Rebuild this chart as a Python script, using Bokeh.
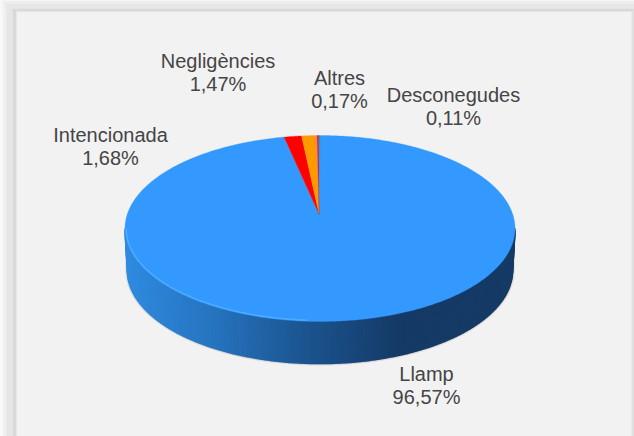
import numpy as np
from bokeh.plotting import figure
from bokeh.models import Range1d
from bokeh.core.properties import value
from bokeh.embed import file_html
from bokeh.resources import INLINE

categories = ["Llamp", "Intencionada", "Negligències", "Altres", "Desconegudes"]
shares = [96.57, 1.68, 1.47, 0.17, 0.11]
colors = ["#3399ff", "#ff0000", "#ff9900", "#cc00cc", "#2e9e6b"]
label_x = [426, 110, 217.5, 339, 453]
label_y = [385, 146, 72, 89, 106]

W, H = 634, 436
p = figure(width=W, height=H, output_backend="svg", toolbar_location=None,
           x_range=Range1d(0, W), y_range=Range1d(H, 0),
           min_border=0, background_fill_color="#f2f2f2", outline_line_color=None,
           border_fill_color="#f2f2f2")
p.axis.visible = False
p.grid.visible = False

# frame: soft bands on the left and the top
left_bands = [(0, 2, "#fafafa"), (2, 4, "#f4f4f4"), (4, 6, "#eeeeee"), (6, 12, "#e6e6e6"), (12, 16, "#d9d9d9")]
top_bands = [(0, 3, "#ededed"), (3, 8, "#e6e6e6"), (8, 11, "#d9d9d9")]
for a, b, c in top_bands:
    p.quad(left=[a * 2 if a == 8 else 0], right=[W], top=[a], bottom=[b], color=c, line_color=None)
for a, b, c in left_bands:
    p.quad(left=[a], right=[b], top=[a if a < 8 else min(a, 8)], bottom=[H], color=c, line_color=None)
p.quad(left=[631], right=[633], top=[11], bottom=[H], color="#e2e2e2", line_color=None)
p.quad(left=[633], right=[634], top=[11], bottom=[H], color="#cfcfcf", line_color=None)

# projection of the pie disc
X0, Y0, K = 319.5, 214.0, 0.1505
A, B = 192.8, 90.9
def proj(theta):
    u, v = np.sin(theta), np.cos(theta)
    w = 1 + K * v
    return X0 + A * u / w, Y0 - B * v / w

CX, CY, RX, RY, DEPTH = 319.5, 228.0, 195.0, 93.0, 42.0
RX2, RY2 = 192.5, 93.0

t = np.linspace(0, np.pi, 121)
def top_pt(a):
    return CX + RX * np.cos(a), CY + RY * np.sin(a)
def bot_pt(a):
    return CX + RX2 * np.cos(a), CY + DEPTH + RY2 * np.sin(a)

# soft shadow under the wall
for grow, alpha in [(2.4, 0.06), (1.6, 0.10), (0.9, 0.16)]:
    sx = CX + (RX2 + grow) * np.cos(t)
    sy = CY + DEPTH + (RY2 + grow) * np.sin(t)
    tx, ty = top_pt(t[::-1])
    p.patch(np.r_[sx, tx], np.r_[sy, ty], color="#303030", alpha=alpha, line_color=None)

# wall with horizontal gradient
stops_x = [125, 215, 300, 400, 515]
stops_r = [47, 38, 28, 21, 21]
stops_g = [139, 115, 86, 58, 58]
stops_b = [224, 190, 146, 102, 102]
xs, ys, cols = [], [], []
for a0, a1 in zip(t[:-1], t[1:]):
    x0, y0 = top_pt(a0); x1, y1 = top_pt(a1)
    x2, y2 = bot_pt(a1); x3, y3 = bot_pt(a0)
    xs.append([x0, x1, x2, x3]); ys.append([y0, y1, y2, y3])
    m = (x0 + x1) / 2
    cols.append("#%02x%02x%02x" % (int(np.interp(m, stops_x, stops_r)),
                                   int(np.interp(m, stops_x, stops_g)),
                                   int(np.interp(m, stops_x, stops_b))))
p.patches(xs, ys, fill_color=cols, line_color=cols, line_width=1.6)

# top surface wedges, clockwise from 12 o'clock
edges = np.r_[0, np.cumsum(shares)] / np.sum(shares) * 2 * np.pi
for a0, a1, c in zip(edges[:-1], edges[1:], colors):
    th = np.linspace(a0, a1, max(3, int((a1 - a0) * 90)))
    x, y = proj(th)
    p.patch(np.r_[X0 - 0.8, x], np.r_[Y0, y], color=c, line_color=c, line_width=0.3)

# rim highlight on the lower left
rim = np.linspace(np.pi * 0.52, np.pi * 1.0, 90)
rx, ry = CX + (RX - 1.2) * np.cos(rim), CY + (RY - 1.2) * np.sin(rim)
p.line(rx, ry, line_color="#62baff", line_width=1.4, line_alpha=0.6)

# labels
labels = ["%s\n%s%%" % (n, ("%.2f" % s).replace(".", ",")) for n, s in zip(categories, shares)]
p.text(label_x, label_y, text=labels, text_font=value("Liberation Sans"), text_font_size="20px",
       text_color="#454545", text_align="center", text_baseline="middle", text_line_height=1.05)

open("out.html", "w").write(file_html(p, INLINE))
